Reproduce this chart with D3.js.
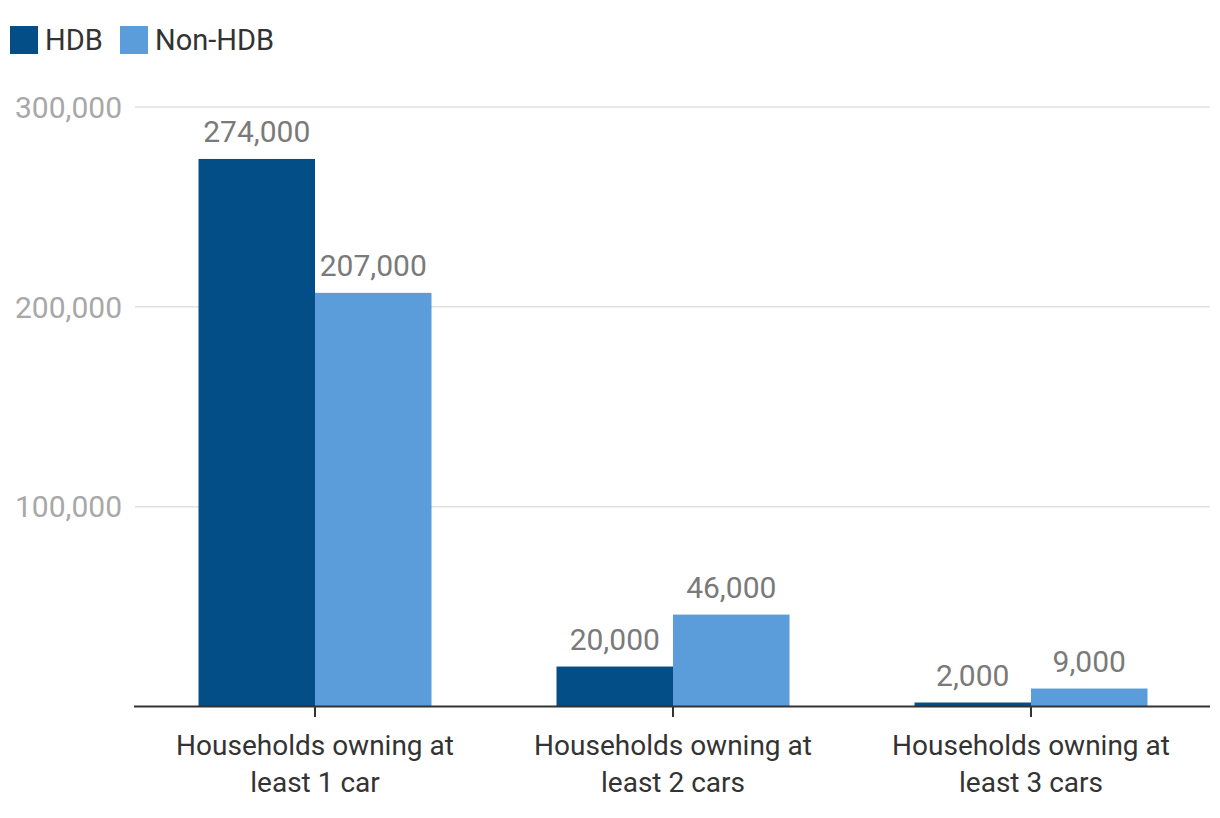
<!DOCTYPE html>
<html><head><meta charset="utf-8">
<script src="https://cdn.jsdelivr.net/npm/d3@7"></script>
<style>body{margin:0;background:#fff;} svg{display:block;font-family:Roboto, "Noto Sans", sans-serif;}</style>
</head><body>
<svg id="chart" width="1220" height="818"></svg>
<script>
const categories = [["Households owning at","least 1 car"],["Households owning at","least 2 cars"],["Households owning at","least 3 cars"]];
const seriesNames = ["HDB","Non-HDB"];
const hdbValues = [274000, 20000, 2000];
const nonHdbValues = [207000, 46000, 9000];
const yTicks = [100000, 200000, 300000];
const colors = ["#034e86", "#5b9ddb"];

const svg = d3.select("#chart");
const x0 = d3.scaleBand().domain(d3.range(categories.length)).range([136,1210]).paddingInner(0).paddingOuter(0);
const inner = 233;
const x1 = d3.scaleBand().domain(seriesNames).range([0, inner]);
const y = d3.scaleLinear().domain([0,300000]).range([706.5,107]);
const fmt = d3.format(",");

// gridlines
svg.append("g").selectAll("line").data(yTicks).join("line")
  .attr("x1",135).attr("x2",1210).attr("y1",d=>y(d)).attr("y2",d=>y(d))
  .attr("stroke","#e2e2e2").attr("stroke-width",1.5);
// y labels
svg.append("g").selectAll("text").data(yTicks).join("text")
  .attr("x",122).attr("y",d=>y(d)).attr("dy","0.36em").attr("text-anchor","end")
  .attr("fill","#a8a8a8").attr("font-size",30).text(d=>fmt(d));

const rows = categories.map((c,i)=>({i, vals:[hdbValues[i], nonHdbValues[i]]}));
const groups = svg.append("g").selectAll("g").data(rows).join("g")
  .attr("transform",d=>`translate(${x0(d.i)+x0.bandwidth()/2-inner/2},0)`);
groups.selectAll("rect").data(d=>d.vals.map((v,k)=>({v,k}))).join("rect")
  .attr("x",d=>x1(seriesNames[d.k])).attr("width",x1.bandwidth())
  .attr("y",d=>y(d.v)).attr("height",d=>y(0)-y(d.v))
  .attr("fill",d=>colors[d.k]);
groups.selectAll("text").data(d=>d.vals.map((v,k)=>({v,k}))).join("text")
  .attr("x",d=>x1(seriesNames[d.k])+x1.bandwidth()/2).attr("y",d=>y(d.v)-17)
  .attr("text-anchor","middle").attr("fill","#7a7a7a").attr("font-size",30)
  .text(d=>fmt(d.v));

// x axis
svg.append("line").attr("x1",134).attr("x2",1210).attr("y1",706.5).attr("y2",706.5)
  .attr("stroke","#333").attr("stroke-width",2);
const xt = svg.append("g").selectAll("g").data(categories.map((c,i)=>({c,i}))).join("g")
  .attr("transform",d=>`translate(${x0(d.i)+x0.bandwidth()/2},0)`);
xt.append("line").attr("y1",706).attr("y2",717).attr("stroke","#333").attr("stroke-width",2);
xt.append("text").attr("text-anchor","middle").attr("fill","#333").attr("font-size",28)
  .selectAll("tspan").data(d=>d.c).join("tspan").attr("x",0).attr("y",(d,j)=>755+j*37).text(d=>d);

// legend
const leg = svg.append("g");
const legX = [10,120];
seriesNames.forEach((n,k)=>{
  leg.append("rect").attr("x",legX[k]).attr("y",26).attr("width",28).attr("height",28).attr("fill",colors[k]);
  leg.append("text").attr("x",legX[k]+35).attr("y",40).attr("dy","0.36em").attr("fill","#333").attr("font-size",29).text(n);
});
</script>
</body></html>
